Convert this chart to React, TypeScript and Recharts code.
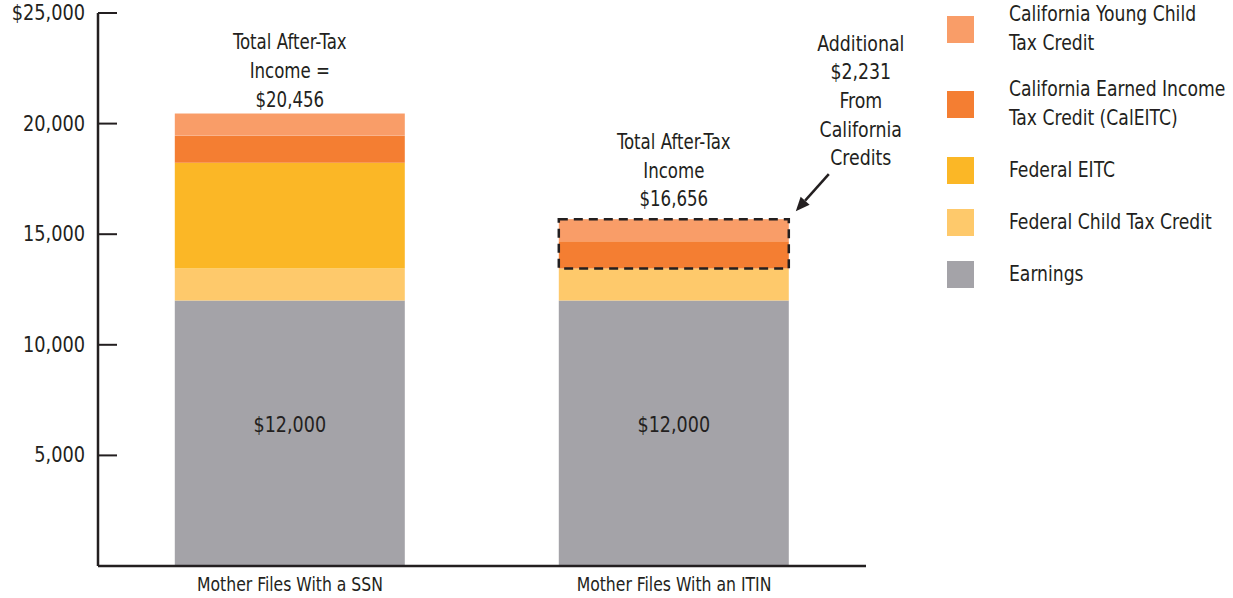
import { BarChart, Bar, XAxis, YAxis, LabelList } from "recharts";

const categories = ["Mother Files With a SSN", "Mother Files With an ITIN"];
const earnings = [12000, 12000];
const federalCtc = [1450, 1450];
const federalEitc = [4775, 0];
const calEitc = [1231, 1231];
const youngChildCredit = [1000, 1000];
const yTicks = [5000, 10000, 15000, 20000, 25000];
const totalNotes = [
  ["Total After-Tax", "Income =", "$20,456"],
  ["Total After-Tax", "Income", "$16,656"],
];
const extraNote = ["Additional", "$2,231", "From", "California", "Credits"];

const FONT = "'Liberation Sans Narrow', 'DejaVu Sans Condensed', 'Liberation Sans', sans-serif";
const INK = "#231f20";
const SQUEEZE = 0.9;

const COLORS = {
  earnings: "#a4a3a8",
  ctc: "#fec96b",
  eitc: "#fbb726",
  caleitc: "#f47e32",
  yctc: "#f99d68",
};

const legendItems = [
  { key: "yctc", lines: ["California Young Child", "Tax Credit"] },
  { key: "caleitc", lines: ["California Earned Income", "Tax Credit (CalEITC)"] },
  { key: "eitc", lines: ["Federal EITC"] },
  { key: "ctc", lines: ["Federal Child Tax Credit"] },
  { key: "earnings", lines: ["Earnings"] },
];

const data = categories.map((name, i) => ({
  name,
  earnings: earnings[i],
  ctc: federalCtc[i],
  eitc: federalEitc[i],
  caleitc: calEitc[i],
  yctc: youngChildCredit[i],
}));

const fmtTick = (v: number) =>
  v === 25000 ? "$25,000" : v.toLocaleString("en-US");

// condensed-looking text: the fallback font is a bit wide, squeeze it horizontally
const NText = ({ x, y, anchor = "middle", sx = SQUEEZE, size = 21, children }: any) => (
  <text
    transform={`translate(${x},${y}) scale(${sx},1)`}
    textAnchor={anchor}
    fontSize={size}
    fill={INK}
    fontFamily={FONT}
  >
    {children}
  </text>
);

const YTick = ({ x, y, payload }: any) => (
  <g>
    <line x1={x + 13} x2={x + 32} y1={y} y2={y} stroke={INK} strokeWidth={2} />
    <NText x={x} y={y + 7} anchor="end" sx={0.94}>
      {fmtTick(payload.value)}
    </NText>
  </g>
);

const XTick = ({ x, y, payload }: any) => (
  <NText x={x} y={y + 15} sx={0.87} size={20}>
    {payload.value}
  </NText>
);

const noteGap = [14, 20];
const LINE_H = 28.6;

// top segment: draws the bar, plus the notes / dashed box that sit on it
const TopShape = (props: any) => {
  const { x, y, width, height, index, payload, fill } = props;
  const cx = x + width / 2;
  const notes = totalNotes[index] || [];
  const last = y - noteGap[index] + 7;
  const ppu = payload.yctc ? height / payload.yctc : 0;
  const boxH = (payload.yctc + payload.caleitc) * ppu;

  // arrow
  const sx = x + width + 40;
  const sy = y - 45;
  const tx = x + width + 7;
  const ty = y - 8;
  const len = Math.hypot(tx - sx, ty - sy);
  const ux = (tx - sx) / len;
  const uy = (ty - sy) / len;
  const bx = tx - ux * 14;
  const by = ty - uy * 14;
  const head = `${tx},${ty} ${bx + uy * 6},${by - ux * 6} ${bx - uy * 6},${by + ux * 6}`;

  return (
    <g>
      <rect x={x} y={y} width={width} height={height} fill={fill} />
      {notes.map((t, i) => (
        <NText key={i} x={cx} y={last - (notes.length - 1 - i) * LINE_H} sx={0.88}>
          {t}
        </NText>
      ))}
      {index === 1 && (
        <g>
          <rect
            x={x}
            y={y}
            width={width}
            height={boxH}
            fill="none"
            stroke={INK}
            strokeWidth={2.5}
            strokeDasharray="9 6"
          />
          {extraNote.map((t, i) => (
            <NText
              key={i}
              x={x + width + 72}
              y={y - 61 + 7 - (extraNote.length - 1 - i) * LINE_H}
              sx={0.92}
            >
              {t}
            </NText>
          ))}
          <line x1={sx} y1={sy} x2={bx} y2={by} stroke={INK} strokeWidth={2.5} />
          <polygon points={head} fill={INK} />
        </g>
      )}
    </g>
  );
};

const EarningsLabel = (props: any) => {
  const { x, y, width, height, value } = props;
  return (
    <NText x={x + width / 2} y={y + height / 2 - 1} sx={0.93}>
      {"$" + Number(value).toLocaleString("en-US")}
    </NText>
  );
};

const legendGaps = [0, 17, 23, 23, 23];

export default function App() {
  return (
    <div
      style={{
        position: "fixed",
        left: 0,
        top: 0,
        width: 1233,
        height: 598,
        background: "#fff",
      }}
    >
      <BarChart
        width={1233}
        height={598}
        data={data}
        margin={{ top: 13, right: 367, bottom: 0, left: 0 }}
        barCategoryGap="20%"
      >
        <XAxis
          dataKey="name"
          height={32}
          tickLine={false}
          tickSize={0}
          tickMargin={10}
          axisLine={{ stroke: INK, strokeWidth: 2.5 }}
          tick={<XTick />}
        />
        <YAxis
          width={98}
          domain={[0, 25000]}
          ticks={yTicks}
          tickLine={false}
          tickSize={0}
          tickMargin={13}
          axisLine={{ stroke: INK, strokeWidth: 2.5 }}
          tick={<YTick />}
        />
        <Bar dataKey="earnings" stackId="a" fill={COLORS.earnings} isAnimationActive={false}>
          <LabelList dataKey="earnings" content={<EarningsLabel />} />
        </Bar>
        <Bar dataKey="ctc" stackId="a" fill={COLORS.ctc} isAnimationActive={false} />
        <Bar dataKey="eitc" stackId="a" fill={COLORS.eitc} isAnimationActive={false} />
        <Bar dataKey="caleitc" stackId="a" fill={COLORS.caleitc} isAnimationActive={false} />
        <Bar
          dataKey="yctc"
          stackId="a"
          fill={COLORS.yctc}
          isAnimationActive={false}
          shape={<TopShape />}
        />
      </BarChart>

      <div
        style={{
          position: "absolute",
          left: 947,
          top: 0,
          fontFamily: FONT,
          fontSize: 21,
          color: INK,
          lineHeight: "29px",
        }}
      >
        {legendItems.map((item, i) => (
          <div
            key={item.key}
            style={{
              display: "flex",
              alignItems: "center",
              marginTop: legendGaps[i],
            }}
          >
            <div
              style={{
                width: 27,
                height: 27,
                background: (COLORS as any)[item.key],
                flexShrink: 0,
              }}
            />
            <div style={{ marginLeft: 35, whiteSpace: "nowrap" }}>
              {item.lines.map((l) => (
                <div
                  key={l}
                  style={{ transform: "scaleX(0.91)", transformOrigin: "left center" }}
                >
                  {l}
                </div>
              ))}
            </div>
          </div>
        ))}
      </div>
    </div>
  );
}
